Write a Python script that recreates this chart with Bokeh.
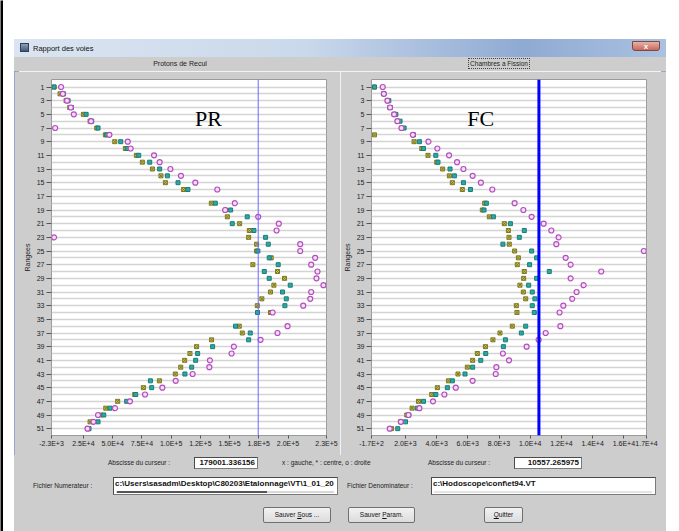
from bokeh.plotting import figure
from bokeh.layouts import column, row
from bokeh.models import (Range1d, FixedTicker, Span, Label, Div, Spacer,
                          ColumnDataSource)
from bokeh.embed import file_html
from bokeh.resources import INLINE

# ---------------- data ----------------
rows = [1, 2, 3, 4, 5, 6, 7, 8, 9, 10, 11, 12, 13, 14, 15, 16,
        18, 19, 20, 21, 22, 23, 24, 25, 26, 27, 28, 29, 30, 31, 32, 33, 34,
        36, 37, 38, 39, 40, 41, 42, 43, 44, 45, 46, 47, 48, 49, 50, 51]

# Protons de Recul  (x : gauche, * : centre, o : droite)
pr_gauche = [-100, 5000, 10200, 13300, 25000, 30700, 36400, 43800, 51800, 60900,
             70300, 75400, 84000, 91300, 95100, 110700,
             134400, 146600, 148100, 158600, 166900, 166300, 173100, 173100, 185600,
             169900, 191000, 197000, 187900, 185000, 177600, 173700, 185000,
             158300, 160900, 134600, 121800, 116100, 111600, 108200, 103600, 90000,
             76300, 68900, 54300, 44100, 39800, 30700, 29000]
pr_centre = [-100, 8000, 11900, 14800, 27300, 32100, 37500, 44900, 56900, 62600,
             72300, 81700, 90200, 96800, 105900, 114400,
             137800, 150900, 165100, 152300, 170800, 180800, 183100, 174200, 183900,
             191600, 179700, 183900, 201900, 195300, 198500, 197300, 173900,
             155100, 167700, 166300, 135500, 122700, 121000, 117600, 111800, 82300,
             83400, 69700, 62000, 47800, 42400, 37500, 29800]
pr_droite = [5900, 7400, 11000, 14200, 16800, 31500, 800, 47200, 62900, 65400,
             85400, 90200, 99400, 108400, 120700, 139500,
             154500, 146200, 174500, 192100, 190200, -100, 210400, 210400, 223200,
             219800, 225200, 224300, 230300, 219800, 219000, 213000, 186800,
             199600, 191000, 176500, 153700, 151700, 133200, 132700, 118400, 103900,
             92500, 77700, 64800, 52000, 37500, 33600, 28500]

# Chambres a Fission
fc_gauche = [20, 610, 850, 1010, 1280, 1490, 1750, 20, 2560, 3050,
             3450, 4010, 4390, 4820, 5010, 5650,
             7080, 6930, 7380, 8340, 8600, 8640, 8660, 9000, 9240,
             9170, 9620, 9580, 9340, 9560, 9710, 9110, 9150,
             8850, 8060, 7610, 7130, 6610, 6310, 5970, 5370, 4760,
             4050, 3690, 2840, 2430, 2090, 1690, 1110]
fc_centre = [20, 630, 940, 1030, 1390, 1660, 1920, 2520, 2900, 3160,
             3950, 4090, 4860, 5140, 5720, 6170,
             7190, 7040, 7640, 8730, 9620, 9300, 8250, 10090, 10410,
             9960, 11220, 10410, 9900, 10130, 10300, 10130, 10260,
             9710, 9430, 8410, 8280, 7150, 6830, 6310, 5820, 5010,
             4690, 3950, 3160, 2770, 2220, 2010, 1510]
fc_droite = [550, 620, 850, 1020, 1280, 1490, 1750, 2480, 3480, 4050,
             4800, 5310, 5720, 6310, 6840, 7570,
             9000, 9560, 10090, 10860, 11350, 11820, 11670, 17280, 12270,
             12590, 14550, 12590, 13420, 12970, 12690, 12120, 11880,
             11930, 10990, 10540, 9770, 8250, 8640, 7830, 7790, 6310,
             5230, 4500, 3770, 2900, 2200, 1710, 1000]

# cursors
pr_cursor = 174500
fc_cursor = 10557.265975
pr_cursor_text = "179001.336156"
fc_cursor_text = "10557.265975"

# axes
pr_range = (-2300, 232900)
fc_range = (-170, 17450)
pr_ticks = [-2300, 25000, 50000, 75000, 100000, 125000, 150000, 175000, 200000, 232900]
pr_tick_labels = ["-2.3E+3", "2.5E+4", "5.0E+4", "7.5E+4", "1.0E+5", "1.2E+5",
                  "1.5E+5", "1.8E+5", "2.0E+5", "2.3E+5"]
fc_ticks = [-170, 2000, 4000, 6000, 8000, 10000, 12000, 14000, 16000, 17450]
fc_tick_labels = ["-1.7E+2", "2.0E+3", "4.0E+3", "6.0E+3", "8.0E+3", "1.0E+4",
                  "1.2E+4", "1.4E+4", "1.6E+4", "1.7E+4"]
row_ticks = list(range(1, 52, 2))
all_rows = list(range(1, 52))

pr_title = "Protons de Recul"
fc_title = "Chambres a Fission"
window_title = "Rapport des voies"
# big labels (text, x, row)
pr_tag = ("PR", 132000, 5.6)
fc_tag = ("FC", 6825, 5.6)

GRAY = "#cdcdcd"
FONT = "Liberation Sans"


def make_plot(xr, ticks, labels, g, c, d, cursor, cursor_color, cursor_w,
              tag, width, left, right):
    p = figure(width=width, height=384, x_range=Range1d(*xr),
               y_range=Range1d(52.0, -0.1), output_backend="svg",
               toolbar_location=None, min_border_left=left, min_border_right=right,
               min_border_top=8, min_border_bottom=20)
    p.border_fill_color = GRAY
    p.background_fill_color = "white"
    p.outline_line_color = "#9a9a9a"

    xa = p.xaxis[0]
    xa.ticker = FixedTicker(ticks=ticks)
    xa.major_label_overrides = {t: l for t, l in zip(ticks, labels)}
    xa.axis_line_color = None
    xa.major_tick_line_color = "#555555"
    xa.major_tick_out = 3
    xa.major_tick_in = 0
    xa.minor_tick_line_color = None
    xa.major_label_standoff = 1
    xa.major_label_text_font = FONT
    xa.major_label_text_font_size = "7px"
    xa.major_label_text_color = "#222222"

    ya = p.yaxis[0]
    ya.ticker = FixedTicker(ticks=row_ticks)
    ya.axis_line_color = None
    ya.major_tick_line_color = "#555555"
    ya.major_tick_out = 5
    ya.major_tick_in = 0
    ya.minor_tick_line_color = None
    ya.major_label_standoff = 2
    ya.major_label_text_font = FONT
    ya.major_label_text_font_size = "7px"
    ya.major_label_text_color = "#222222"
    ya.axis_label = "Rangees"
    ya.axis_label_text_font = FONT
    ya.axis_label_text_font_size = "7px"
    ya.axis_label_text_font_style = "normal"
    ya.axis_label_text_color = "#222222"
    ya.axis_label_standoff = 3

    p.xgrid.grid_line_color = None
    p.ygrid.ticker = FixedTicker(ticks=all_rows)
    p.ygrid.grid_line_color = "#d4d4d4"
    p.ygrid.grid_line_width = 1.5

    src = ColumnDataSource(dict(r=rows, g=g, c=c, d=d))
    p.scatter("g", "r", source=src, marker="square_x", size=4,
              fill_color="#cfc46a", line_color="#7f7a1c", line_width=1)
    p.scatter("c", "r", source=src, marker="square", size=4,
              fill_color="#2aa9a2", line_color="#1c7c78", line_width=1)
    p.scatter("d", "r", source=src, marker="circle", size=5,
              fill_color="#f3def3", line_color="#b44fc0", line_width=1.2)

    p.add_layout(Span(location=cursor, dimension="height",
                      line_color=cursor_color, line_width=cursor_w))
    p.add_layout(Label(x=tag[1], y=tag[2], text=tag[0], text_align="center",
                       text_baseline="middle", text_font="Liberation Serif",
                       text_font_size="22px", text_color="black"))
    return p


pL = make_plot(pr_range, pr_ticks, pr_tick_labels,
               pr_gauche, pr_centre, pr_droite, pr_cursor, "#6a6aff", 1,
               pr_tag, 326, 37, 14)
pR = make_plot(fc_range, fc_ticks, fc_tick_labels,
               fc_gauche, fc_centre, fc_droite, fc_cursor, "#0000ff", 3,
               fc_tag, 326, 31, 20)

WIN_W = 652

title_html = f"""
<div style="position:relative;width:{WIN_W}px;height:18px;overflow:hidden;
 background:linear-gradient(90deg,#dbe5f1 0%,#c9d8eb 45%,#8faad3 78%,#aac1e0 100%);
 font-family:'{FONT}';font-size:7.5px;color:#111;">
 <div style="position:absolute;left:6px;top:4px;width:9px;height:9px;
  background:linear-gradient(#8aa0b8,#3f5a7a);border:1px solid #2d3e55;"></div>
 <span style="position:absolute;left:19px;top:5px;line-height:9px;white-space:nowrap;">{window_title}</span>
 <div style="position:absolute;left:618px;top:2px;width:28px;height:10px;
  background:linear-gradient(#e7b3a8,#c9685a);border:1px solid #7a4a44;
  border-radius:0 0 3px 3px;color:#fff;font-size:8px;line-height:10px;
  text-align:center;font-weight:bold;">x</div>
</div>"""

heads_html = f"""
<div style="position:relative;width:{WIN_W}px;height:14px;overflow:hidden;
 background:{GRAY};font-family:'{FONT}';font-size:7px;color:#222;">
 <div style="position:absolute;left:96px;top:2px;width:140px;text-align:center;
  line-height:9px;white-space:nowrap;">{pr_title}</div>
 <div style="position:absolute;left:415px;top:1px;width:140px;text-align:center;
  line-height:9px;white-space:nowrap;">
  <span style="display:inline-block;border:1px dotted #444;padding:0 1px;
   font-size:6.5px;">{fc_title}</span></div>
</div>"""

box = ("position:absolute;background:#fff;border:1px solid #7a7a7a;"
       "border-top-color:#4a4a4a;border-left-color:#4a4a4a;box-sizing:border-box;")
btn = ("position:absolute;top:52px;height:16px;box-sizing:border-box;"
       "border:1px solid #707070;border-radius:2px;white-space:nowrap;"
       "background:linear-gradient(#f2f2f2,#dcdcdc);font-size:6.5px;color:#111;"
       "text-align:center;line-height:14px;")
lab = "position:absolute;font-size:6.5px;color:#222;white-space:nowrap;line-height:8px;"

footer_html = f"""
<div style="position:relative;width:{WIN_W}px;height:76px;overflow:hidden;
 background:{GRAY};font-family:'{FONT}';">
 <span style="{lab}left:94px;top:4px;">Abscisse du curseur :</span>
 <div style="{box}left:180px;top:2px;width:64px;height:12px;font-size:8px;
  font-weight:bold;color:#111;text-align:right;padding-right:2px;line-height:10px;">{pr_cursor_text}</div>
 <span style="{lab}left:268px;top:4px;">x : gauche, * : centre, o : droite</span>
 <span style="{lab}left:414px;top:4px;">Abscisse du curseur :</span>
 <div style="{box}left:500px;top:2px;width:68px;height:12px;font-size:8px;
  font-weight:bold;color:#111;text-align:right;padding-right:2px;line-height:10px;">{fc_cursor_text}</div>

 <span style="{lab}left:19px;top:27px;">Fichier Numerateur :</span>
 <div style="{box}left:99px;top:22px;width:225px;height:18px;">
  <div style="position:absolute;left:1px;top:1px;font-size:8px;font-weight:bold;color:#111;
   white-space:nowrap;overflow:hidden;width:221px;line-height:10px;">c:\\Users\\sasadm\\Desktop\\C80203\\Etalonnage\\VT\\1_01_20</div>
  <div style="position:absolute;left:2px;right:3px;bottom:1px;height:2px;background:#d8d8d8;"></div>
  <div style="position:absolute;left:3px;width:150px;bottom:1px;height:2px;background:#555;"></div>
 </div>
 <span style="{lab}left:333px;top:27px;">Fichier Denominateur :</span>
 <div style="{box}left:417px;top:22px;width:225px;height:18px;">
  <div style="position:absolute;left:1px;top:1px;font-size:8px;font-weight:bold;color:#111;
   white-space:nowrap;line-height:10px;">c:\\Hodoscope\\conf\\et94.VT</div>
  <div style="position:absolute;left:2px;right:3px;bottom:1px;height:2px;background:#e4e4e4;"></div>
 </div>

 <div style="{btn}left:249px;width:68px;">Sauver <u>S</u>ous ...</div>
 <div style="{btn}left:334px;width:67px;">Sauver <u>P</u>aram.</div>
 <div style="{btn}left:470px;width:39px;"><u>Q</u>uitter</div>
</div>"""

title_div = Div(text=title_html, width=WIN_W, height=18, margin=0)
heads_div = Div(text=heads_html, width=WIN_W, height=14, margin=0)
footer_div = Div(text=footer_html, width=WIN_W, height=76, margin=0)

# dark edge of the screenshot at the far left
edge = figure(width=3, height=531, output_backend="svg", toolbar_location=None,
              min_border=0, x_axis_type=None, y_axis_type=None,
              x_range=Range1d(0, 1), y_range=Range1d(0, 1))
edge.border_fill_color = "#000000"
edge.background_fill_color = "#000000"
edge.outline_line_color = None
edge.grid.visible = False

window = column(title_div, heads_div, row(pL, pR, spacing=0), footer_div, spacing=0,
                styles={"outline": "5px solid #7f9bc9", "outline-offset": "-5px"})
root = row(edge, Spacer(width=11, height=531),
           column(Spacer(width=WIN_W, height=39), window, spacing=0),
           spacing=0)

open("out.html", "w").write(file_html(root, INLINE))
